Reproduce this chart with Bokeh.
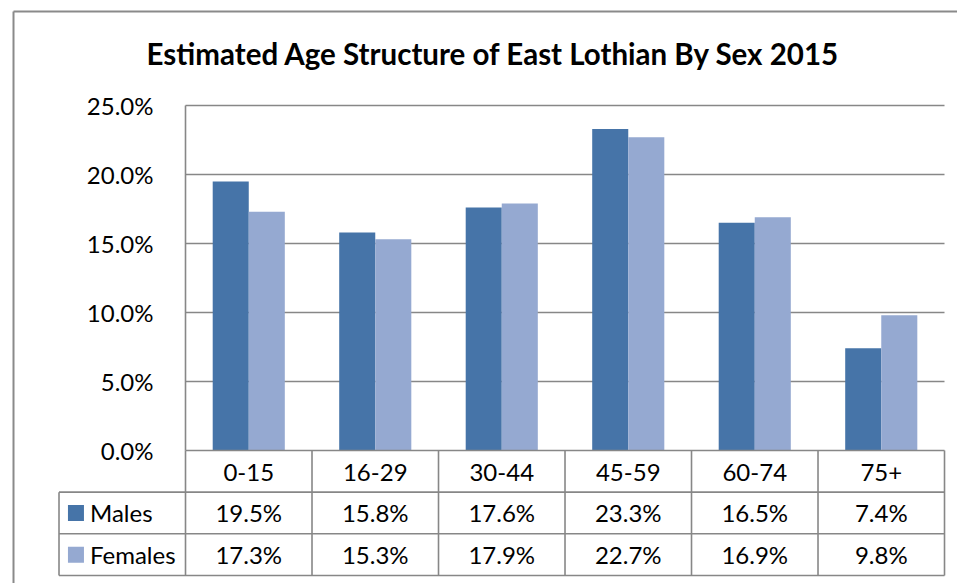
from bokeh.plotting import figure
from bokeh.models import Range1d, FixedTicker, NumeralTickFormatter, Label, ColumnDataSource
from bokeh.core.properties import value
from bokeh.embed import file_html
from bokeh.resources import INLINE

# ---- data ----
categories = ["0-15", "16-29", "30-44", "45-59", "60-74", "75+"]
males = [0.195, 0.158, 0.176, 0.233, 0.165, 0.074]
females = [0.173, 0.153, 0.179, 0.227, 0.169, 0.098]
series_names = ["Males", "Females"]
y_ticks = [0.0, 0.05, 0.10, 0.15, 0.20, 0.25]
title_text = "Estimated Age Structure of East Lothian By Sex 2015"

# ---- style ----
MALE_C = "#4674A8"
FEMALE_C = "#95A9D1"
GRID_C = "#878787"
FONT = "Lato"
FS = "24px"
BAR_W = 0.285
ROW_H = 0.0302

W, H = 957, 583
X0, X1 = -1.9625, 5.6027
Y0, Y1 = -0.0964, 0.3261
p = figure(width=W, height=H, output_backend="svg", toolbar_location=None,
           x_range=Range1d(X0, X1), y_range=Range1d(Y0, Y1),
           min_border=0, title=None)
p.outline_line_color = None
p.grid.visible = False

idx = list(range(len(categories)))
n = len(categories)

# outer chart border (decoration)
bx, by = -1.8597, 0.3181
p.segment(x0=[bx, bx], y0=[Y0, by], x1=[bx, X1], y1=[by, by],
          line_color="#8a8a8a", line_width=2)

# gridlines from tick values
gt = [t for t in y_ticks if t > 0]
p.segment(x0=[-0.5] * len(gt), y0=gt, x1=[n - 0.5] * len(gt), y1=gt,
          line_color=GRID_C, line_width=1.6)

# bars
src = ColumnDataSource(dict(
    xm=[i - BAR_W / 2 for i in idx], xf=[i + BAR_W / 2 for i in idx],
    males=males, females=females))
p.vbar(x="xm", top="males", bottom=0, width=BAR_W, source=src,
       fill_color=MALE_C, line_color=None)
p.vbar(x="xf", top="females", bottom=0, width=BAR_W, source=src,
       fill_color=FEMALE_C, line_color=None)

# table lines
vx = [k - 0.5 for k in range(n + 1)]
p.segment(x0=vx, y0=[0] * len(vx), x1=vx, y1=[-3 * ROW_H] * len(vx),
          line_color=GRID_C, line_width=1.6)
p.segment(x0=[-1.5], y0=[-ROW_H], x1=[-1.5], y1=[-3 * ROW_H],
          line_color=GRID_C, line_width=1.6)
hy = [-ROW_H, -2 * ROW_H, -3 * ROW_H]
p.segment(x0=[-1.5] * 3, y0=hy, x1=[n - 0.5] * 3, y1=hy,
          line_color=GRID_C, line_width=1.6)

# table values
for r, (vals, name, col) in enumerate([(males, series_names[0], MALE_C),
                                        (females, series_names[1], FEMALE_C)]):
    yc = -(r + 1.5) * ROW_H
    p.text(x=idx, y=[yc] * n, text=[f"{v * 100:.1f}%" for v in vals],
           text_align="center", text_baseline="middle",
           text_font=value(FONT), text_font_size=FS, text_color="#000000")
    p.rect(x=[-1.366], y=[yc], width=16, height=16, width_units="screen",
           height_units="screen", fill_color=col, line_color=None)
    p.text(x=[-1.255], y=[yc], text=[name], text_align="left", text_baseline="middle",
           text_font=value(FONT), text_font_size=FS, text_color="#000000")

# axes
xa = p.xaxis[0]
xa.fixed_location = 0
xa.ticker = FixedTicker(ticks=idx)
xa.major_label_overrides = {i: c for i, c in zip(idx, categories)}
xa.bounds = (-0.5, n - 0.5)
xa.major_tick_line_color = None
xa.minor_tick_line_color = None
xa.axis_line_color = GRID_C
xa.axis_line_width = 1.6
xa.major_label_standoff = 8
xa.major_label_text_font = FONT
xa.major_label_text_font_size = FS
xa.major_label_text_color = "#000000"

ya = p.yaxis[0]
ya.fixed_location = -0.5
ya.ticker = FixedTicker(ticks=y_ticks)
ya.formatter = NumeralTickFormatter(format="0.0%")
ya.bounds = (0, 0.25)
ya.major_tick_line_color = None
ya.minor_tick_line_color = None
ya.axis_line_color = GRID_C
ya.axis_line_width = 1.6
ya.major_label_standoff = 26
ya.major_label_text_font = FONT
ya.major_label_text_font_size = FS
ya.major_label_text_color = "#000000"

p.add_layout(Label(x=493, y=H - 53, x_units="screen", y_units="screen", text=title_text,
                   text_align="center", text_baseline="middle", text_font=FONT,
                   text_font_style="bold", text_font_size="29.5px", text_color="#000000"))

open("out.html", "w").write(file_html(p, INLINE))
